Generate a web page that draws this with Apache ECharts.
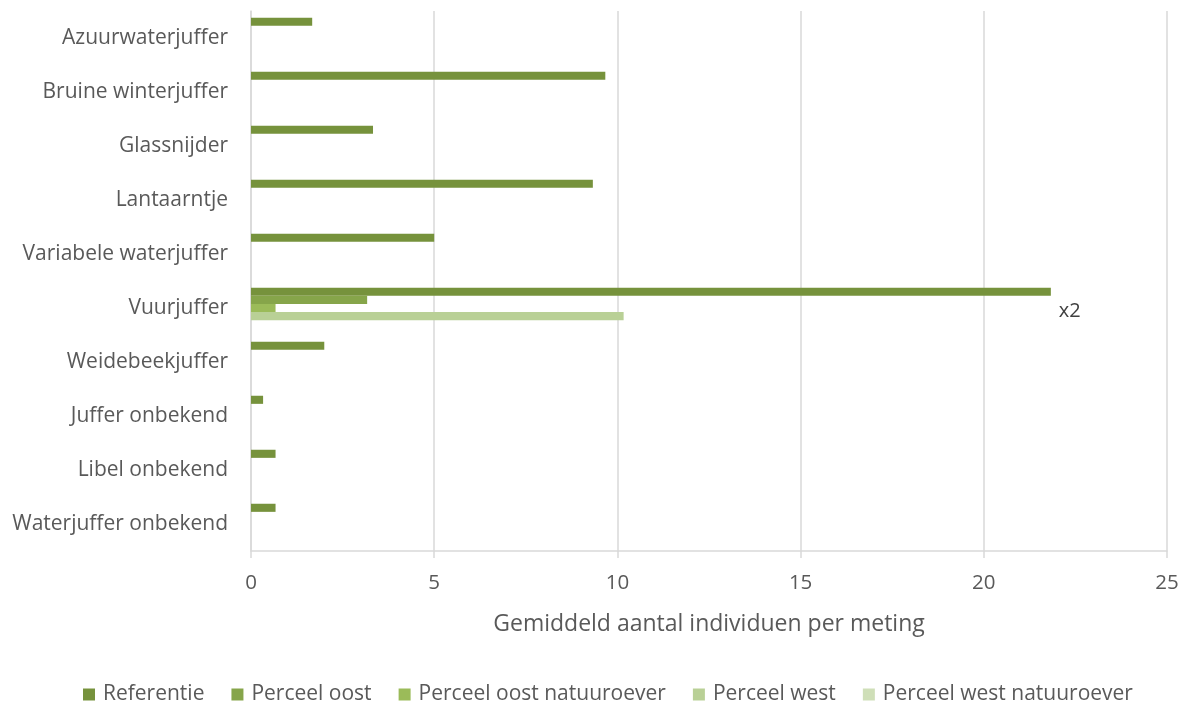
<!DOCTYPE html>
<html>
<head>
<meta charset="utf-8">
<script src="https://cdn.jsdelivr.net/npm/echarts@6/dist/echarts.min.js"></script>
<style>
  html, body { margin: 0; padding: 0; background: #fff; }
  #chart { width: 1184px; height: 705px; }
</style>
</head>
<body>
<div id="chart"></div>
<script>
// Soorten (van boven naar onder)
const categories = [
  'Azuurwaterjuffer', 'Bruine winterjuffer', 'Glassnijder', 'Lantaarntje',
  'Variabele waterjuffer', 'Vuurjuffer', 'Weidebeekjuffer', 'Juffer onbekend',
  'Libel onbekend', 'Waterjuffer onbekend'
];
const seriesNames = ['Referentie', 'Perceel oost', 'Perceel oost natuuroever', 'Perceel west', 'Perceel west natuuroever'];
const referentie = [1.67, 9.67, 3.33, 9.33, 5.0, 21.83, 2.0, 0.33, 0.67, 0.67];
const perceelOost = [0, 0, 0, 0, 0, 3.17, 0, 0, 0, 0];
const perceelOostNatuuroever = [0, 0, 0, 0, 0, 0.67, 0, 0, 0, 0];
const perceelWest = [0, 0, 0, 0, 0, 10.17, 0, 0, 0, 0];
const perceelWestNatuuroever = [0, 0, 0, 0, 0, 0, 0, 0, 0, 0];
const xTicks = [0, 5, 10, 15, 20, 25];
const annotation = { category: 'Vuurjuffer', text: 'x2' };

const colors = ['#76923C', '#86A54A', '#9BBB59', '#B9D096', '#CFDFB8'];
const seriesData = [referentie, perceelOost, perceelOostNatuuroever, perceelWest, perceelWestNatuuroever];
const font = '"Open Sans", sans-serif';

const chart = echarts.init(document.getElementById('chart'), null, { renderer: 'canvas' });

const series = seriesData.map((vals, si) => ({
  name: seriesNames[si],
  type: 'bar',
  barGap: '0%',
  barCategoryGap: '25%',
  itemStyle: { color: colors[si] },
  emphasis: { disabled: true },
  data: vals.map((v, ci) => {
    const item = { value: v };
    if (si === 0 && categories[ci] === annotation.category) {
      item.label = {
        show: true,
        position: 'right',
        distance: 8,
        offset: [0, 19],
        formatter: annotation.text,
        color: '#404040',
        fontSize: 20,
        fontFamily: font
      };
    }
    return item;
  })
}));

chart.setOption({
  animation: false,
  color: colors,
  grid: { left: 251, right: 17, top: 11, bottom: 154, containLabel: false },
  legend: {
    top: 679,
    left: 78,
    itemWidth: 12,
    itemHeight: 12,
    itemGap: 27,
    icon: 'rect',
    textStyle: { color: '#595959', fontSize: 21, fontFamily: font, padding: [0, 0, 0, 3] },
    data: seriesNames
  },
  xAxis: {
    type: 'value',
    min: xTicks[0],
    max: xTicks[xTicks.length - 1],
    interval: xTicks[1] - xTicks[0],
    name: 'Gemiddeld aantal individuen per meting',
    nameLocation: 'middle',
    nameGap: 62,
    nameTextStyle: { color: '#595959', fontSize: 23, fontFamily: font },
    axisLine: { show: true, lineStyle: { color: '#D9D9D9', width: 1.5 } },
    axisTick: { show: true, length: 7, lineStyle: { color: '#D9D9D9', width: 1.5 } },
    axisLabel: { color: '#595959', fontSize: 20.5, fontFamily: font, margin: 22 },
    splitLine: { show: true, lineStyle: { color: '#D9D9D9', width: 1.5 } }
  },
  yAxis: {
    type: 'category',
    inverse: true,
    data: categories,
    axisLine: { show: true, lineStyle: { color: '#D9D9D9', width: 1.5 } },
    axisTick: { show: false },
    axisLabel: { color: '#595959', fontSize: 21, fontFamily: font, margin: 23, padding: [0, 0, 5, 0] }
  },
  series: series
});
</script>
</body>
</html>
